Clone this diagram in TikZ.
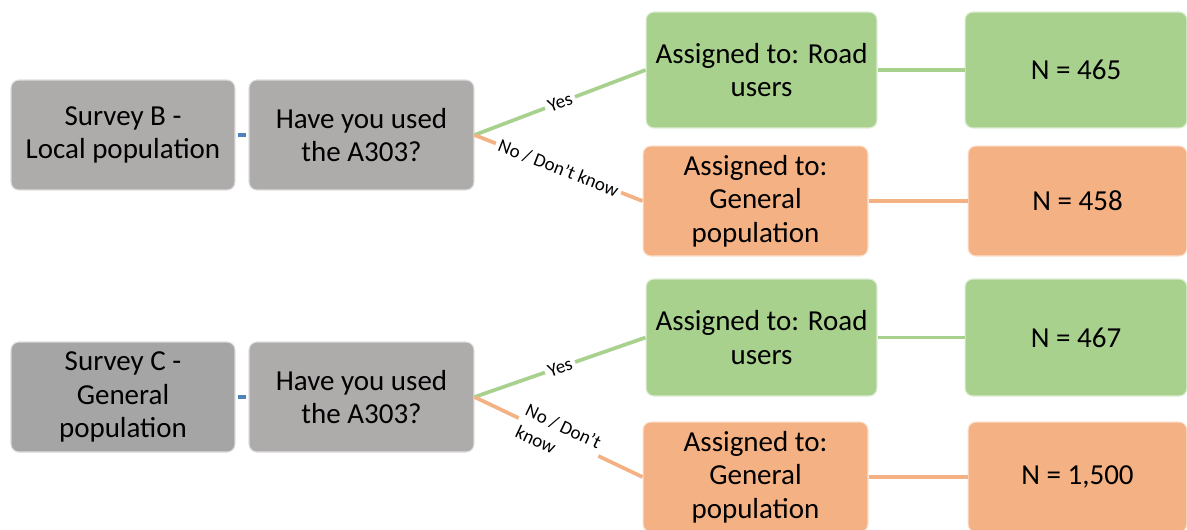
\documentclass[tikz,border=0pt]{standalone}
\usepackage{fontspec}
\setmainfont{Carlito}
\usepackage{tikz}

\definecolor{boxgrey}{HTML}{AEABAB}
\definecolor{darkgrey}{HTML}{A5A5A5}
\definecolor{leafgreen}{HTML}{A9D18E}
\definecolor{leaforange}{HTML}{F4B183}
\definecolor{linkblue}{HTML}{4F81BD}

\begin{document}
\begin{tikzpicture}[x=0.02cm, y=-0.02cm, line width=2.1pt,
        main/.style = {rounded corners=4.5pt, draw=white!60!#1, line width=0.6pt, fill=#1, minimum height=2.2cm, align=center, inner sep=2pt, font=\fontsize{16.5}{19}\selectfont},
        tag/.style = {sloped, fill=white, text=black, inner sep=2pt, align=center, font=\fontsize{10.8}{13.5}\selectfont}]
        \path[use as bounding box, fill=white] (0,0) rectangle (1187,529);

        \node[main=boxgrey, minimum width=4.48cm] (survB) at (123,135) {Survey B -\\Local population};
        \node[main=boxgrey, minimum width=4.5cm] (askB) at (361.5,135) {Have you used\\the A303?};
        \node[main=leafgreen, minimum width=4.62cm, minimum height=2.32cm] (roadB) at (761.5,70) {Assigned to: Road\\users};
        \node[main=leafgreen, minimum width=4.44cm, minimum height=2.32cm] (nroadB) at (1076,70) {N = 465};
        \node[main=leaforange, minimum width=4.5cm] (genB) at (755.5,201) {Assigned to:\\General\\population};
        \node[main=leaforange, minimum width=4.38cm] (ngenB) at (1077.5,201) {N = 458};

        \node[main=darkgrey, minimum width=4.48cm] (survC) at (123,397) {Survey C -\\General\\population};
        \node[main=boxgrey, minimum width=4.5cm] (askC) at (361.5,397) {Have you used\\the A303?};
        \node[main=leafgreen, minimum width=4.62cm, minimum height=2.34cm] (roadC) at (761.5,337.5) {Assigned to: Road\\users};
        \node[main=leafgreen, minimum width=4.44cm, minimum height=2.34cm] (nroadC) at (1076,337.5) {N = 467};
        \node[main=leaforange, minimum width=4.5cm] (genC) at (755.5,477) {Assigned to:\\General\\population};
        \node[main=leaforange, minimum width=4.38cm] (ngenC) at (1077.5,477) {N = 1,500};

        \path[linkblue, line width=2.6pt, shorten <=1.2pt, shorten >=1.2pt] (survB) edge (askB);
        \path[linkblue, line width=2.6pt, shorten <=1.2pt, shorten >=1.2pt] (survC) edge (askC);

        \path[leafgreen] (askB.east) edge node[tag] {Yes} (roadB.west);
        \path[leaforange] (askB.east) edge node[tag] {No / Don't know} (genB.west);
        \path[leafgreen] (roadB) edge (nroadB);
        \path[leaforange] (genB) edge (ngenB);

        \path[leafgreen] (askC.east) edge node[tag] {Yes} (roadC.west);
        \path[leaforange] (askC.east) edge node[tag, align=left] {No / Don't\\know} (genC.west);
        \path[leafgreen] (roadC) edge (nroadC);
        \path[leaforange] (genC) edge (ngenC);

    \end{tikzpicture}
\end{document}
